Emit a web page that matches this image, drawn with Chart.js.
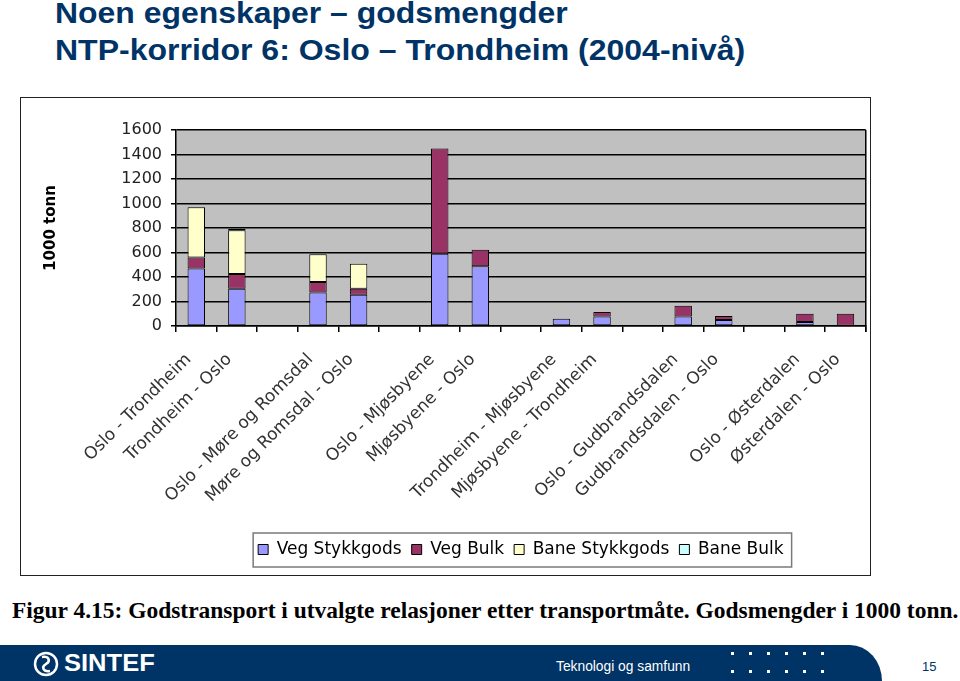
<!DOCTYPE html>
<html>
<head>
<meta charset="utf-8">
<script src="https://cdn.jsdelivr.net/npm/chart.js@4.4.1/dist/chart.umd.min.js"></script>
<style>
html, body { margin: 0; padding: 0; background: #fff; }
body { width: 960px; height: 681px; position: relative; overflow: hidden; font-family: "Liberation Sans", Arial, sans-serif; }
.fit { position: absolute; white-space: nowrap; transform-origin: 0 0; }
.title { color: #003366; font-weight: bold; font-size: 29px; line-height: 29px; left: 55px; }
#frame { position: absolute; left: 20px; top: 97px; width: 849px; height: 477px; border: 1px solid #222; }
#chartBox { position: absolute; left: 21px; top: 98px; width: 849px; height: 477px; }
#caption { font-family: "Liberation Serif", "Times New Roman", serif; font-weight: bold; font-size: 24px; line-height: 24px; left: 12px; top: 598px; color: #000; }
#band { position: absolute; left: 0; top: 645px; width: 882px; height: 36px; background: #003366; border-top-right-radius: 32px 36px; }
#logoText { color: #fff; font-weight: bold; font-size: 23px; line-height: 23px; left: 64px; top: 652px; }
#slogan { color: #fff; font-size: 14px; line-height: 14px; left: 556px; top: 659px; }
.dot { position: absolute; width: 3px; height: 3px; background: #fff; }
#pageNo { position: absolute; left: 922px; top: 660px; font-size: 13px; line-height: 13px; color: #003366; }
</style>
</head>
<body>
<div class="fit title" data-w="513" style="top:-1px">Noen egenskaper – godsmengder</div>
<div class="fit title" data-w="690" style="top:36px">NTP-korridor 6: Oslo – Trondheim (2004-nivå)</div>

<div id="frame"></div>
<div id="chartBox"><canvas id="chart" width="849" height="477"></canvas></div>

<div id="caption" class="fit" data-w="946">Figur 4.15: Godstransport i utvalgte relasjoner etter transportmåte. Godsmengder i 1000 tonn.</div>

<div id="band"></div>
<svg style="position:absolute;left:33px;top:651px" width="26" height="26" viewBox="0 0 26 26">
  <circle cx="13" cy="13" r="11" fill="none" stroke="#fff" stroke-width="2.5"/>
  <path d="M9 6 C16 5 18 10 13 13 C8 16 10 21 17 20" fill="none" stroke="#fff" stroke-width="2.5"/>
</svg>
<div id="logoText" class="fit" data-w="91">SINTEF</div>
<div id="slogan" class="fit" data-w="134">Teknologi og samfunn</div>
<div id="dots"></div>
<div id="pageNo">15</div>

<script>
// Relasjoner (tomme kategorier gir mellomrom mellom parene)
const relasjoner = [
    'Oslo - Trondheim', 'Trondheim - Oslo', '',
    'Oslo - Møre og Romsdal', 'Møre og Romsdal - Oslo', '',
    'Oslo - Mjøsbyene', 'Mjøsbyene - Oslo', '',
    'Trondheim - Mjøsbyene', 'Mjøsbyene - Trondheim', '',
    'Oslo - Gudbrandsdalen', 'Gudbrandsdalen - Oslo', '',
    'Oslo - Østerdalen', 'Østerdalen - Oslo'
];

// Godsmengder i 1000 tonn
const vegStykkgods  = [469, 305, null, 274, 255, null, 590, 488, null, 60, 77, null, 77, 49, null, 33, 3];
const vegBulk       = [91, 120, null, 86, 50, null, 859, 135, null, null, 38, null, 88, 33, null, 66, 96];
const baneStykkgods = [409, 357, null, 225, 203, null, null, null, null, null, null, null, null, null, null, null, null];
const baneBulk      = [null, 12, null, null, null, null, null, null, null, null, null, null, null, null, null, null, null];

const yTicks = [0, 200, 400, 600, 800, 1000, 1200, 1400, 1600];

// Grå bakgrunn i plottet
const plotBackground = {
    id: 'plotBackground',
    beforeDraw(chart) {
        const {ctx, chartArea: a} = chart;
        ctx.save();
        ctx.fillStyle = '#C0C0C0';
        ctx.fillRect(a.left, a.top, a.right - a.left, a.bottom - a.top);
        ctx.restore();
    },
    afterDraw(chart) {
        const {ctx, chartArea: a} = chart;
        ctx.save();
        ctx.strokeStyle = '#000';
        ctx.lineWidth = 1.5;
        ctx.beginPath();
        ctx.moveTo(a.right, a.top);
        ctx.lineTo(a.right, a.bottom + 6);
        ctx.stroke();
        ctx.restore();
    }
};

// Ramme rundt forklaringen
const legendFrame = {
    id: 'legendFrame',
    afterDraw(chart) {
        const hb = chart.legend.legendHitBoxes;
        if (!hb || !hb.length) return;
        const l = Math.min(...hb.map(h => h.left));
        const r = Math.max(...hb.map(h => h.left + h.width));
        const t = hb[0].top, b = hb[0].top + hb[0].height;
        const ctx = chart.ctx;
        ctx.save();
        ctx.strokeStyle = '#7a7a7a';
        ctx.lineWidth = 1.5;
        ctx.strokeRect(l - 5, t - 8, r - l + 13, b - t + 17);
        ctx.restore();
    }
};

const serier = [
    {label: 'Veg Stykkgods', data: vegStykkgods, backgroundColor: '#9999FF'},
    {label: 'Veg Bulk', data: vegBulk, backgroundColor: '#993366'},
    {label: 'Bane Stykkgods', data: baneStykkgods, backgroundColor: '#FFFFCC'},
    {label: 'Bane Bulk', data: baneBulk, backgroundColor: '#CCFFFF'}
].map(s => Object.assign(s, {
    borderColor: '#000',
    borderWidth: 1,
    borderSkipped: false,
    barPercentage: 0.43,
    categoryPercentage: 1
}));

new Chart(document.getElementById('chart'), {
    type: 'bar',
    data: { labels: relasjoner, datasets: serier },
    options: {
        responsive: false,
        animation: false,
        layout: { padding: { top: 32, bottom: 7, left: 0, right: 3 } },
        plugins: {
            legend: {
                position: 'bottom',
                fullSize: false,
                labels: {
                    color: '#000',
                    font: { family: 'DejaVu Sans', size: 17 },
                    boxWidth: 10,
                    boxHeight: 10,
                    padding: 10
                }
            },
            tooltip: { enabled: false }
        },
        scales: {
            x: {
                stacked: true,
                grid: { display: true, drawOnChartArea: false, drawTicks: true, tickLength: 6, color: '#000', lineWidth: 1.5, offset: true },
                border: { color: '#000', width: 1.5 },
                ticks: {
                    autoSkip: false,
                    minRotation: 45,
                    maxRotation: 45,
                    padding: 10,
                    color: '#333',
                    font: { family: 'DejaVu Sans', size: 17 },
                    // litt luft på slutten flytter teksten ned langs diagonalen
                    callback: (v, i) => relasjoner[i] ? relasjoner[i] + '  ' : ''
                },
                afterFit(scale) { scale.height = 205; }
            },
            y: {
                stacked: true,
                min: 0,
                max: 1600,
                afterBuildTicks(scale) { scale.ticks = yTicks.map(v => ({ value: v })); },
                grid: { color: '#000', lineWidth: 1.5, tickLength: 5 },
                border: { color: '#000', width: 1.5 },
                ticks: {
                    padding: 9,
                    color: '#222',
                    font: { family: 'DejaVu Sans', size: 16 },
                    callback: v => String(v)
                },
                title: {
                    display: true,
                    text: '1000 tonn',
                    color: '#000',
                    font: { family: 'DejaVu Sans', size: 15, weight: 'bold' },
                    padding: { top: 21, bottom: 0 }
                },
                afterFit(scale) { scale.width = 155; }
            }
        }
    },
    plugins: [plotBackground, legendFrame]
});

// Prikker i bunnlinjen
const dots = document.getElementById('dots');
[652, 670].forEach(y => {
    for (let i = 0; i < 6; i++) {
        const d = document.createElement('div');
        d.className = 'dot';
        d.style.left = (731 + i * 18) + 'px';
        d.style.top = y + 'px';
        dots.appendChild(d);
    }
});

// Tilpass tekstbredder
document.querySelectorAll('.fit').forEach(el => {
    const w = +el.dataset.w;
    el.style.transform = 'scaleX(' + (w / el.offsetWidth) + ')';
});
</script>
</body>
</html>
